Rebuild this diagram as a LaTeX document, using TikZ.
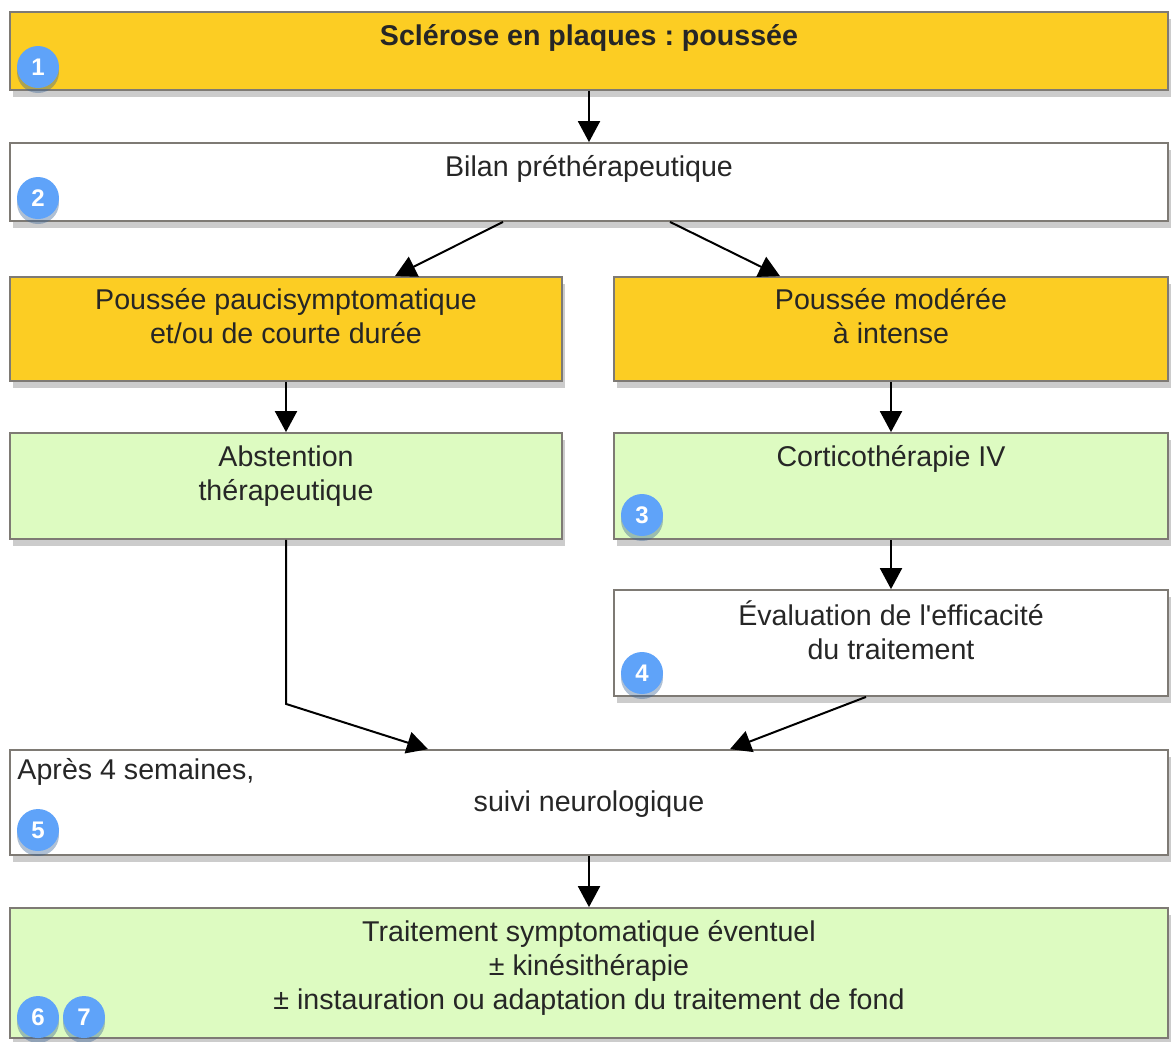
\documentclass[tikz,border=0pt]{standalone}
\usepackage{fontspec}
\setmainfont{Liberation Sans}
\usetikzlibrary{arrows.meta,shadows}
\definecolor{pyellow}{HTML}{FCCD23}
\definecolor{pgreen}{HTML}{DDFBC1}
\definecolor{boxgray}{HTML}{7E7A74}
\definecolor{badgeblue}{HTML}{5FA3F9}
\definecolor{textgray}{HTML}{262626}
\frenchspacing
\tikzset{
  box/.style={draw=boxgray, line width=0.9pt, inner sep=0pt,
    drop shadow={shadow xshift=1.5pt, shadow yshift=-3.5pt, opacity=0.4}},
  txt/.style={inner sep=0pt, align=center, text=textgray,
    font=\fontsize{14.3}{17}\selectfont},
  badge/.style={circle, fill=badgeblue, minimum size=21pt, inner sep=0pt,
    text=white, font=\fontsize{12}{12}\selectfont\bfseries,
    drop shadow={shadow xshift=0pt, shadow yshift=-2.5pt, fill=badgeblue!60!black, opacity=0.4}},
  arr/.style={line width=1pt, -{Triangle[width=11pt,length=10.5pt]}}
}
\begin{document}
\begin{tikzpicture}[x=0.5pt, y=-0.5pt]
  \useasboundingbox (0,0) rectangle (1171,1041);
  \node[box, fill=pyellow, minimum width=579pt, minimum height=39pt] (sep) at (589,51) {};
  \node[box, fill=white, minimum width=579pt, minimum height=39pt] (bilan) at (589,182) {};
  \node[box, fill=pyellow, minimum width=276pt, minimum height=52pt] (pauci) at (286,329) {};
  \node[box, fill=pyellow, minimum width=277pt, minimum height=52pt] (modere) at (891,329) {};
  \node[box, fill=pgreen, minimum width=276pt, minimum height=53pt] (abst) at (286,486) {};
  \node[box, fill=pgreen, minimum width=277pt, minimum height=53pt] (cortico) at (891,486) {};
  \node[box, fill=white, minimum width=277pt, minimum height=53pt] (eval) at (891,643) {};
  \node[box, fill=white, minimum width=579pt, minimum height=52.5pt] (suivi) at (589,802.5) {};
  \node[box, fill=pgreen, minimum width=579pt, minimum height=65pt] (trait) at (589,973) {};

  \node[txt, anchor=base, font=\fontsize{14.3}{17}\selectfont\bfseries] (septxt) at ([yshift=-17pt]sep.north) {Sclérose en plaques : poussée};
  \node[txt, anchor=base] (bilantxt) at ([yshift=-17pt]bilan.north) {Bilan préthérapeutique};
  \node[txt, anchor=north] (paucitxt) at ([yshift=-4.6pt]pauci.north) {\strut Poussée paucisymptomatique\\et/ou de courte durée};
  \node[txt, anchor=north] (moderetxt) at ([yshift=-4.6pt]modere.north) {\strut Poussée modérée\\à intense};
  \node[txt, anchor=north] (absttxt) at ([yshift=-5.1pt]abst.north) {\strut Abstention\\thérapeutique};
  \node[txt, anchor=base] (corticotxt) at ([yshift=-17pt]cortico.north) {Corticothérapie IV};
  \node[txt, anchor=north] (evaltxt) at ([yshift=-5.6pt]eval.north) {\strut Évaluation de l\textquotesingle efficacité\\du traitement};
  \node[txt, anchor=base west] (apres) at ([xshift=4pt, yshift=-15pt]suivi.north west) {Après 4 semaines,};
  \node[txt, anchor=base] (suivitxt) at ([yshift=-31pt]suivi.north) {suivi neurologique};
  \node[txt, anchor=north] (traittxt) at ([yshift=-5.1pt]trait.north) {\strut Traitement symptomatique éventuel\\± kinésithérapie\\± instauration ou adaptation du traitement de fond};

  \node[badge] (b1) at (38,67) {1};
  \node[badge] (b2) at (38,198) {2};
  \node[badge] (b3) at (642,515) {3};
  \node[badge] (b4) at (642,673) {4};
  \node[badge] (b5) at (38,830) {5};
  \node[badge] (b6) at (38,1017) {6};
  \node[badge] (b7) at (84,1017) {7};

  \draw[arr] (sep.south) -- (bilan.north);
  \draw[arr] ([xshift=-43pt]bilan.south) -- ([xshift=54.5pt]pauci.north);
  \draw[arr] ([xshift=40.5pt]bilan.south) -- ([xshift=-55.5pt]modere.north);
  \draw[arr] (pauci.south) -- (abst.north);
  \draw[arr] (modere.south) -- (cortico.north);
  \draw[arr] (cortico.south) -- (eval.north);
  \draw[arr] (abst.south) -- ++(0,164) -- ([xshift=-80.5pt]suivi.north);
  \draw[arr] ([xshift=-12.5pt]eval.south) -- ([xshift=70.5pt]suivi.north);
  \draw[arr] (suivi.south) -- (trait.north);
\end{tikzpicture}
\end{document}
